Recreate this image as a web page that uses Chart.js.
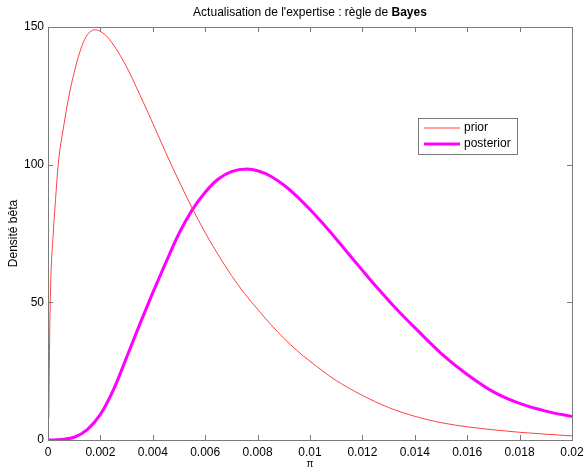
<!DOCTYPE html>
<html>
<head>
<meta charset="utf-8">
<script src="https://cdn.jsdelivr.net/npm/chart.js@4"></script>
<style>
  html, body { margin: 0; padding: 0; background: #fff; }
</style>
</head>
<body>
<canvas id="c" width="585" height="470"></canvas>
<script>
// ===================== DATA =====================
// pi values and beta densities
const priorX = [0.00003, 0.00006, 0.0001, 0.0002, 0.0003, 0.0004, 0.0006, 0.0008, 0.001,
  0.0012, 0.0014, 0.0016, 0.0018, 0.002, 0.0022, 0.0025, 0.003, 0.0035, 0.004, 0.0045,
  0.005, 0.0055, 0.006, 0.0065, 0.007, 0.0075, 0.008, 0.0085, 0.009, 0.0095, 0.01,
  0.011, 0.012, 0.013, 0.014, 0.015, 0.016, 0.017, 0.018, 0.019, 0.02];
const priorY = [8, 35, 56, 75, 89, 101, 114, 125, 133.5,
  140.5, 145.5, 148.2, 149, 148.4, 147, 143.5, 135.5, 125.5, 115, 104.3,
  94, 84.3, 75.3, 67.2, 59.8, 53.2, 47.5, 42, 37, 32.5, 28.6,
  21.6, 16.2, 11.8, 8.6, 6.3, 4.8, 3.7, 2.8, 2.1, 1.5];

const postX = [0, 0.0005, 0.001, 0.0015, 0.002, 0.0025, 0.003, 0.0035, 0.004, 0.0045,
  0.005, 0.0055, 0.006, 0.0065, 0.007, 0.0076, 0.008, 0.0085, 0.009, 0.0095,
  0.01, 0.0105, 0.011, 0.0115, 0.012, 0.0125, 0.013, 0.0135, 0.014, 0.015,
  0.016, 0.017, 0.018, 0.019, 0.02];
const postY = [0, 0.2, 1.0, 3.8, 9.3, 18.3, 30, 42, 53.5, 64.5,
  75, 83.5, 90, 94.8, 97.5, 98.4, 97.8, 95.8, 92.6, 88.5,
  83.7, 78.5, 73, 67.3, 61.6, 56, 50.7, 45.6, 40.8, 31.5,
  23.8, 17.5, 13.3, 10.5, 8.5];

const xTicks = [0, 0.002, 0.004, 0.006, 0.008, 0.01, 0.012, 0.014, 0.016, 0.018, 0.02];
const yTicks = [0, 50, 100, 150];

const FONT = '"Liberation Sans", Arial, sans-serif';

function pts(xs, ys) {
  return xs.map((x, i) => ({ x: x, y: ys[i] }));
}

// ===================== FRAME, TITLE, LEGEND =====================
const frame = {
  id: 'frame',
  afterDraw(chart) {
    const ctx = chart.ctx;
    const a = chart.chartArea;
    const xs = chart.scales.x;
    const ys = chart.scales.y;
    ctx.save();

    // axes box
    ctx.strokeStyle = '#7a7a7a';
    ctx.lineWidth = 1;
    ctx.strokeRect(Math.round(a.left) + 0.5, Math.round(a.top) + 0.5,
      Math.round(a.right - a.left), Math.round(a.bottom - a.top));

    // inward ticks on all sides
    ctx.beginPath();
    xTicks.forEach(v => {
      const px = Math.round(xs.getPixelForValue(v)) + 0.5;
      ctx.moveTo(px, a.bottom); ctx.lineTo(px, a.bottom - 5);
      ctx.moveTo(px, a.top); ctx.lineTo(px, a.top + 5);
    });
    yTicks.forEach(v => {
      const py = Math.round(ys.getPixelForValue(v)) + 0.5;
      ctx.moveTo(a.left, py); ctx.lineTo(a.left + 5, py);
      ctx.moveTo(a.right, py); ctx.lineTo(a.right - 5, py);
    });
    ctx.stroke();

    // title with bold "Bayes"
    const t1 = "Actualisation de l'expertise : règle de ";
    const t2 = 'Bayes';
    ctx.fillStyle = '#000';
    ctx.textBaseline = 'middle';
    ctx.font = '12px ' + FONT;
    const w1 = ctx.measureText(t1).width;
    ctx.font = 'bold 12px ' + FONT;
    const w2 = ctx.measureText(t2).width;
    const tx = (a.left + a.right) / 2 - (w1 + w2) / 2;
    ctx.textAlign = 'left';
    ctx.font = '12px ' + FONT;
    ctx.fillText(t1, tx, 13);
    ctx.font = 'bold 12px ' + FONT;
    ctx.fillText(t2, tx + w1, 13);

    // legend box
    const lx = 418, ly = 118, lw = 99, lh = 36;
    ctx.fillStyle = '#fff';
    ctx.fillRect(lx, ly, lw, lh);
    ctx.strokeStyle = '#7a7a7a';
    ctx.lineWidth = 1;
    ctx.strokeRect(lx + 0.5, ly + 0.5, lw, lh);
    ctx.font = '12px ' + FONT;
    chart.data.datasets.forEach((ds, i) => {
      const yy = ly + 10 + i * 16;
      ctx.strokeStyle = ds.borderColor;
      ctx.lineWidth = ds.borderWidth;
      ctx.beginPath();
      ctx.moveTo(lx + 6, yy); ctx.lineTo(lx + 42, yy);
      ctx.stroke();
      ctx.fillStyle = '#000';
      ctx.fillText(ds.label, lx + 46, yy);
    });

    ctx.restore();
  }
};

// ===================== CHART =====================
new Chart(document.getElementById('c'), {
  type: 'scatter',
  data: {
    datasets: [
      {
        label: 'prior',
        data: pts(priorX, priorY),
        showLine: true,
        borderColor: '#ff4040',
        borderWidth: 1,
        pointRadius: 0,
        cubicInterpolationMode: 'monotone'
      },
      {
        label: 'posterior',
        data: pts(postX, postY),
        showLine: true,
        borderColor: '#ff00ff',
        borderWidth: 3,
        pointRadius: 0,
        cubicInterpolationMode: 'monotone'
      }
    ]
  },
  options: {
    responsive: false,
    animation: false,
    devicePixelRatio: 1,
    layout: { padding: { top: 27, right: 13, left: 0, bottom: 0 } },
    plugins: {
      legend: { display: false },
      title: { display: false },
      tooltip: { enabled: false }
    },
    scales: {
      x: {
        type: 'linear',
        min: 0,
        max: 0.02,
        afterBuildTicks: s => { s.ticks = xTicks.map(v => ({ value: v })); },
        afterFit: s => { s.height = 30; s.paddingLeft = 0; s.paddingRight = 0; },
        grid: { display: false, drawTicks: false },
        border: { display: false },
        ticks: {
          padding: 5,
          maxRotation: 0,
          autoSkip: false,
          color: '#000',
          font: { family: FONT, size: 12 },
          callback: v => String(Number(v.toFixed(3)))
        },
        title: {
          display: true,
          text: 'π',
          color: '#000',
          font: { family: FONT, size: 10 },
          padding: { top: -3, bottom: 0 }
        }
      },
      y: {
        min: 0,
        max: 150,
        afterBuildTicks: s => { s.ticks = yTicks.map(v => ({ value: v })); },
        afterFit: s => { s.width = 48; },
        grid: { display: false, drawTicks: false },
        border: { display: false },
        ticks: {
          padding: 4,
          color: '#000',
          font: { family: FONT, size: 12 }
        },
        title: {
          display: true,
          text: 'Densité bêta',
          color: '#000',
          font: { family: FONT, size: 12 },
          padding: { top: 6, bottom: 0 }
        }
      }
    }
  },
  plugins: [frame]
});
</script>
</body>
</html>
